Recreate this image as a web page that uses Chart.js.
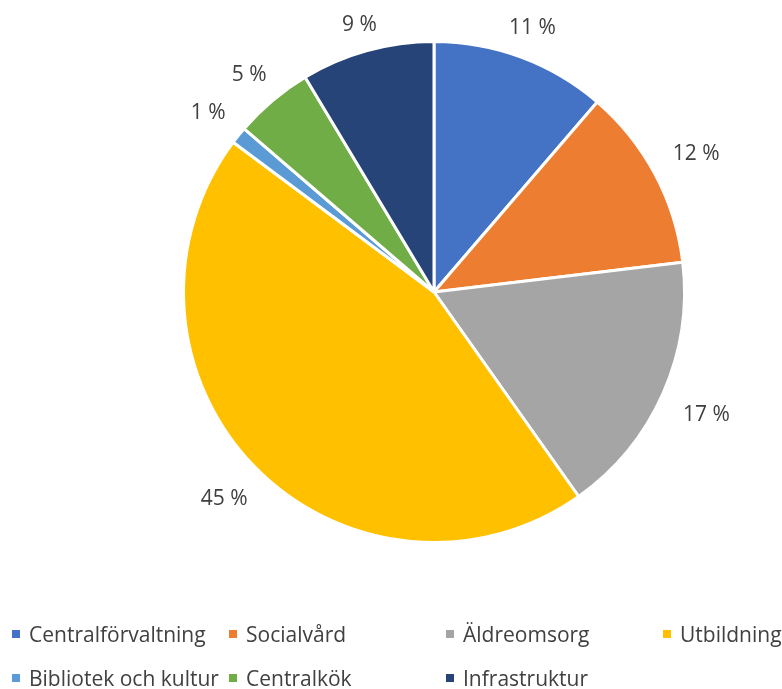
<!DOCTYPE html>
<html>
<head>
<meta charset="utf-8">
<script src="https://cdn.jsdelivr.net/npm/chart.js@4.4.1/dist/chart.umd.min.js"></script>
<style>
  html, body { margin: 0; padding: 0; background: #fff; }
  #wrap { position: relative; width: 782px; height: 689px; }
</style>
</head>
<body>
<div id="wrap"><canvas id="chart"></canvas></div>
<script>
// data (shares in percent)
const labels = ['Centralförvaltning', 'Socialvård', 'Äldreomsorg', 'Utbildning', 'Bibliotek och kultur', 'Centralkök', 'Infrastruktur'];
const values = [11.3, 11.8, 17.1, 45.0, 1.1, 5.1, 8.6];
const colors = ['#4472C4', '#ED7D31', '#A5A5A5', '#FFC000', '#5B9BD5', '#70AD47', '#264478'];

const FONT = '"Open Sans", "Liberation Sans", sans-serif';
const TEXT = '#404040';

// percent labels just outside each slice
const outsideLabels = {
    id: 'outsideLabels',
    afterDatasetsDraw(chart) {
        const ctx = chart.ctx;
        const meta = chart.getDatasetMeta(0);
        const total = values.reduce((a, b) => a + b, 0);
        ctx.save();
        ctx.font = '21px ' + FONT;
        ctx.fillStyle = TEXT;
        ctx.textAlign = 'center';
        ctx.textBaseline = 'alphabetic';
        const capH = ctx.measureText('0').actualBoundingBoxAscent;
        meta.data.forEach((arc, i) => {
            const p = arc.getProps(['x', 'y', 'startAngle', 'endAngle', 'outerRadius'], true);
            const mid = (p.startAngle + p.endAngle) / 2;
            const text = Math.round(values[i] / total * 100) + ' %';
            const w = ctx.measureText(text).width;
            const r = p.outerRadius + 24 + 1.1 * w / 2 * Math.abs(Math.cos(mid));
            ctx.fillText(text, p.x + r * Math.cos(mid), p.y + r * Math.sin(mid) + capH / 2);
        });
        ctx.restore();
    }
};

// excel style legend, 4 fixed columns
const gridLegend = {
    id: 'gridLegend',
    afterDraw(chart) {
        const ctx = chart.ctx;
        ctx.save();
        ctx.font = '21px ' + FONT;
        ctx.textAlign = 'left';
        ctx.textBaseline = 'alphabetic';
        const capH = ctx.measureText('C').actualBoundingBoxAscent;
        labels.forEach((lab, i) => {
            const x = 12 + (i % 4) * 217;
            const y = 634 + Math.floor(i / 4) * 44;
            ctx.fillStyle = colors[i];
            ctx.fillRect(x, y - 4, 8, 8);
            ctx.fillStyle = TEXT;
            ctx.fillText(lab, x + 17, y + capH / 2);
        });
        ctx.restore();
    }
};

new Chart(document.getElementById('chart'), {
    type: 'pie',
    data: {
        labels: labels,
        datasets: [{
            data: values,
            backgroundColor: colors,
            borderColor: '#ffffff',
            borderWidth: 3
        }]
    },
    options: {
        responsive: true,
        maintainAspectRatio: false,
        animation: false,
        layout: { padding: { top: 40, bottom: 145, left: 150, right: 64 } },
        plugins: {
            legend: { display: false },
            tooltip: { enabled: false }
        }
    },
    plugins: [outsideLabels, gridLegend]
});
</script>
</body>
</html>
